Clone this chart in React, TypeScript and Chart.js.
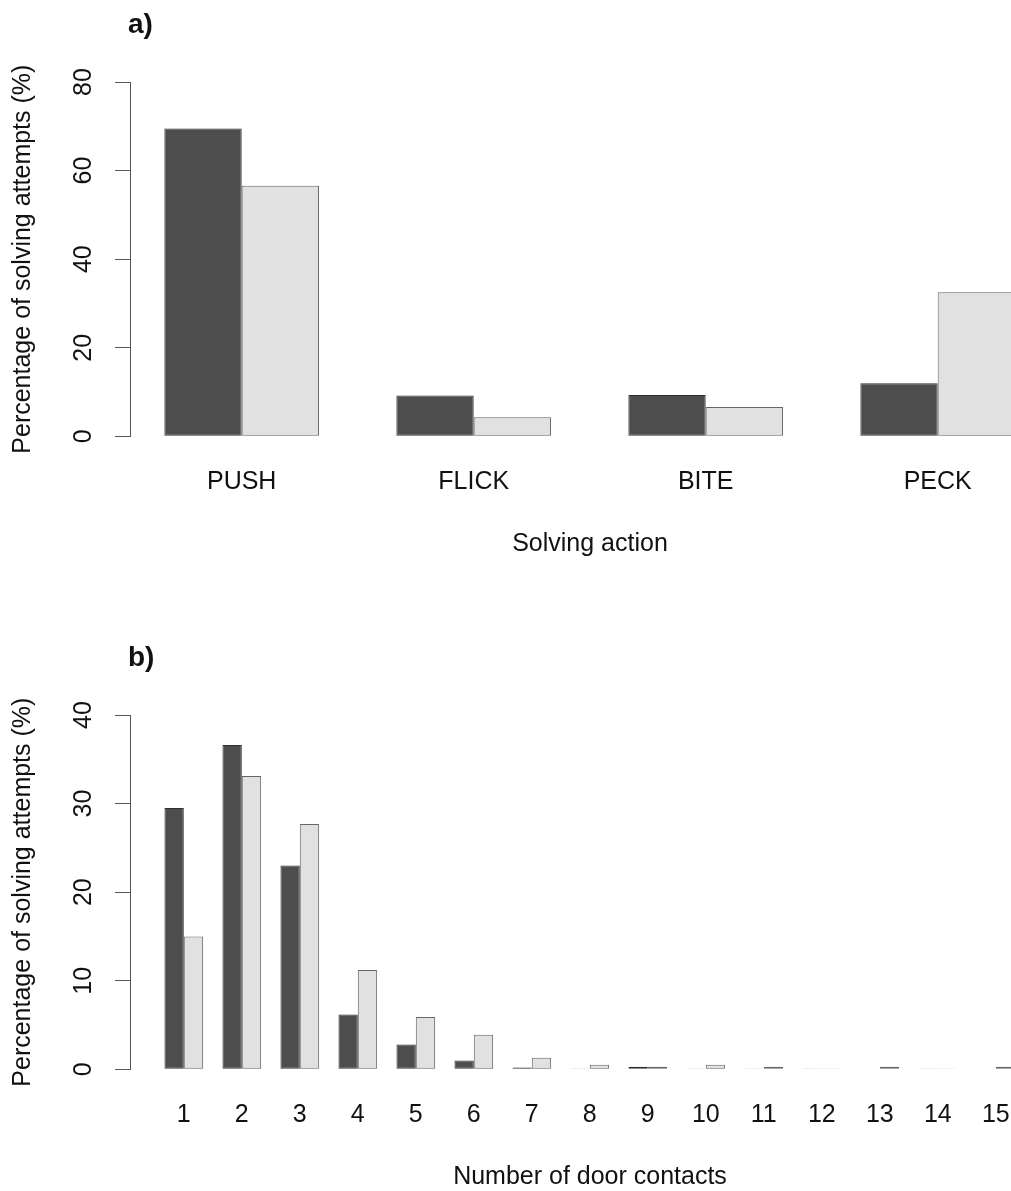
import React, { useEffect, useRef } from 'react';
import { Chart, registerables } from 'chart.js';

Chart.register(...registerables);

// ---- Panel a) data ----
const actionCategories = ['PUSH', 'FLICK', 'BITE', 'PECK'];
const actionDark = [69.5, 9.2, 9.3, 12.0];
const actionLight = [56.6, 4.3, 6.6, 32.5];
const actionTicks = [0, 20, 40, 60, 80];

// ---- Panel b) data ----
const contactCategories = ['1', '2', '3', '4', '5', '6', '7', '8', '9', '10', '11', '12', '13', '14', '15'];
const contactDark = [29.5, 36.6, 23.0, 6.2, 2.8, 1.0, 0.2, 0.1, 0.3, 0.1, 0.1, 0.1, 0.05, 0.1, 0.05];
const contactLight = [15.0, 33.1, 27.7, 11.2, 5.9, 3.9, 1.3, 0.5, 0.3, 0.5, 0.3, 0.08, 0.3, 0.08, 0.3];
const contactTicks = [0, 10, 20, 30, 40];

const FONT = "'Liberation Sans', Arial, Helvetica, sans-serif";
const FONT_SIZE = 25;
const TEXT = '#111111';
const AXIS = '#555555';
const DARK_FILL = '#4d4d4d';
const DARK_EDGE = '#2e2e2e';
const LIGHT_FILL = '#e1e1e1';
const LIGHT_EDGE = '#666666';

const CANVAS_W = 1050;
const PLOT_LEFT = 130;

const panelLabel = {
  id: 'panelLabel',
  afterDraw(chart: any, _args: any, opts: any) {
    const { ctx, chartArea } = chart;
    ctx.save();
    ctx.font = `bold 28px ${FONT}`;
    ctx.fillStyle = TEXT;
    ctx.textAlign = 'left';
    ctx.textBaseline = 'alphabetic';
    ctx.fillText(opts.text, chartArea.left - 2, chartArea.top - 49.5);
    ctx.restore();
  },
};

type Spec = {
  label: string;
  cats: string[];
  dark: number[];
  light: number[];
  yTicks: number[];
  xTitle: string;
  top: number;
  height: number;
  plotTop: number;
  firstCenter: number;
  spacing: number;
};

function buildConfig(spec: Spec): any {
  const xMin = 1 - (spec.firstCenter - PLOT_LEFT) / spec.spacing;
  const xMax = 1 + (CANVAS_W - spec.firstCenter) / spec.spacing;
  const font = { family: FONT, size: FONT_SIZE };
  const mk = (vals: number[], fill: string, edge: string, name: string) => ({
    label: name,
    data: spec.cats.map((_, i) => ({ x: i + 1, y: vals[i] })),
    backgroundColor: fill,
    borderColor: edge,
    borderWidth: 1,
    borderSkipped: false,
    categoryPercentage: 2 / 3,
    barPercentage: 1,
    inflateAmount: 0,
  });
  return {
    type: 'bar',
    data: {
      datasets: [
        mk(spec.dark, DARK_FILL, DARK_EDGE, 'dark'),
        mk(spec.light, LIGHT_FILL, LIGHT_EDGE, 'light'),
      ],
    },
    plugins: [panelLabel],
    options: {
      responsive: false,
      animation: false,
      devicePixelRatio: 1,
      layout: { padding: { top: spec.plotTop, left: 0, right: 0, bottom: 0 } },
      plugins: {
        legend: { display: false },
        tooltip: { enabled: false },
        panelLabel: { text: spec.label },
      },
      scales: {
        x: {
          type: 'linear',
          min: xMin,
          max: xMax,
          offset: false,
          afterBuildTicks: (s: any) => {
            s.ticks = spec.cats.map((_, i) => ({ value: i + 1 }));
          },
          ticks: {
            autoSkip: false,
            maxRotation: 0,
            minRotation: 0,
            padding: 30.7,
            color: TEXT,
            font,
            callback: (v: any) => spec.cats[Math.round(Number(v)) - 1] ?? '',
          },
          grid: { display: false, drawTicks: false },
          border: { display: false },
          title: {
            display: true,
            text: spec.xTitle,
            color: TEXT,
            font,
            padding: { top: 0, bottom: 36 },
          },
          afterFit: (s: any) => {
            s.height = 158.7;
          },
        },
        y: {
          type: 'linear',
          position: 'left',
          min: spec.yTicks[0],
          max: spec.yTicks[spec.yTicks.length - 1],
          afterBuildTicks: (s: any) => {
            s.ticks = spec.yTicks.map((v) => ({ value: v }));
          },
          ticks: {
            autoSkip: false,
            minRotation: 90,
            maxRotation: 90,
            crossAlign: 'center',
            padding: 17.4,
            color: TEXT,
            font,
          },
          grid: {
            drawOnChartArea: false,
            drawTicks: true,
            tickLength: 15,
            color: AXIS,
            lineWidth: 1,
          },
          border: { display: true, color: AXIS, width: 1 },
          title: {
            display: true,
            text: 'Percentage of solving attempts (%)',
            color: TEXT,
            font,
            padding: { top: 8.5, bottom: 0 },
          },
          afterFit: (s: any) => {
            s.width = PLOT_LEFT;
          },
        },
      },
    },
  };
}

function BarPanel({ spec }: { spec: Spec }) {
  const ref = useRef<HTMLCanvasElement>(null);
  useEffect(() => {
    if (!ref.current) return;
    const chart = new Chart(ref.current, buildConfig(spec));
    return () => chart.destroy();
  }, [spec]);
  return (
    <canvas
      ref={ref}
      width={CANVAS_W}
      height={spec.height}
      style={{ position: 'absolute', left: 0, top: spec.top, display: 'block', width: CANVAS_W, height: spec.height }}
    />
  );
}

const specA: Spec = {
  label: 'a)',
  cats: actionCategories,
  dark: actionDark,
  light: actionLight,
  yTicks: actionTicks,
  xTitle: 'Solving action',
  top: 0,
  height: 595,
  plotTop: 82,
  firstCenter: 241.7,
  spacing: 232,
};

const specB: Spec = {
  label: 'b)',
  cats: contactCategories,
  dark: contactDark,
  light: contactLight,
  yTicks: contactTicks,
  xTitle: 'Number of door contacts',
  top: 595,
  height: 633,
  plotTop: 120,
  firstCenter: 183.8,
  spacing: 58,
};

export default function App() {
  return (
    <div
      style={{
        position: 'absolute',
        left: 0,
        top: 0,
        width: 1011,
        height: 1191,
        overflow: 'hidden',
        background: '#ffffff',
      }}
    >
      <BarPanel spec={specA} />
      <BarPanel spec={specB} />
    </div>
  );
}
